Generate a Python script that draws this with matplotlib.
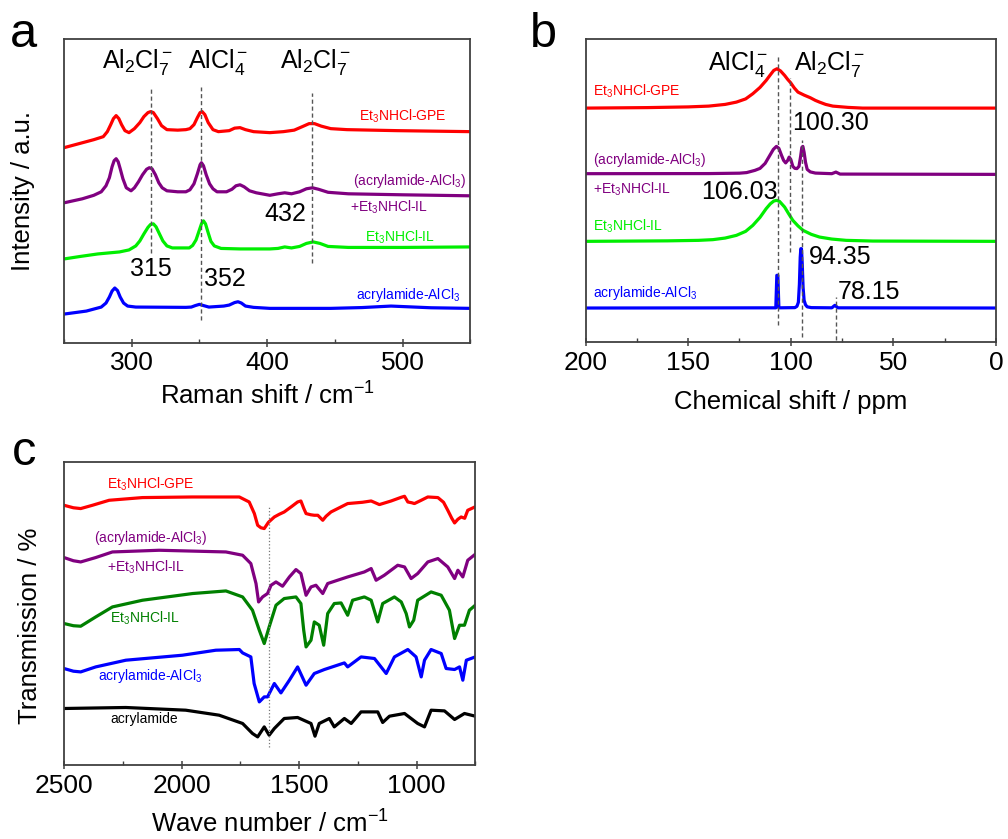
import numpy as np
import matplotlib
matplotlib.use("Agg")
from matplotlib import pyplot as plt
from matplotlib.ticker import MultipleLocator

plt.rcParams['font.family'] = ['Liberation Sans', 'DejaVu Sans']
plt.rcParams['mathtext.fontset'] = 'custom'
plt.rcParams['mathtext.rm'] = 'Liberation Sans'
plt.rcParams['mathtext.it'] = 'Liberation Sans'
plt.rcParams['mathtext.bf'] = 'Liberation Sans'

# ---- panel a : Raman ----
ra_gpe_x = [250, 261, 272, 279, 282, 284.5, 286.5, 288.5, 290.5, 292.5, 295, 298, 302, 306, 309, 312, 314, 316, 319, 322, 326, 334, 340, 343, 346, 348.5, 350.5, 352, 354, 356.5, 360, 364, 372, 376, 380, 384, 390, 402, 412, 420, 426, 431, 435, 440, 447, 459, 496, 550]
ra_gpe_y = [195, 199, 203, 206, 211, 218, 224, 227, 224, 218, 212, 210, 214, 220, 226, 230, 231, 230, 224, 217, 213, 212.5, 213, 214, 218, 225, 230, 231, 228, 220, 213, 211, 212, 214.5, 215, 213, 211, 210, 211, 212.5, 216, 219, 219, 216.5, 214, 213, 212, 211]
ra_pur_x = [250, 263.5, 272, 277.5, 281, 283.5, 285.5, 287, 288.5, 290, 291.5, 293.5, 296, 299.5, 302, 305, 308, 311, 313, 315, 317.5, 320, 322.5, 326, 334, 340, 343, 346, 348.5, 350.5, 351.5, 353, 355, 357.5, 360, 363, 370, 374, 377, 380, 383, 387, 392, 402, 408, 413, 418, 424, 429, 433.5, 438, 445, 460, 500, 550]
ra_pur_y = [140, 144, 147.5, 151, 157, 165, 176, 182, 184, 181, 174, 164, 155, 152, 155, 161, 168, 173.5, 175, 174, 168, 160, 155, 152, 151, 151, 153, 159, 169, 178, 180, 177, 168, 159, 154, 151, 151, 153.5, 157, 158, 156, 152, 150, 147.5, 149, 150, 149, 151, 154, 155, 153.5, 150.5, 149, 148, 147]
ra_grn_x = [250, 262, 275, 291, 298, 303, 306, 309, 312, 314, 316, 318, 320.5, 323, 326, 330, 342.5, 345, 347.5, 349.5, 351.5, 353, 354.5, 356.5, 358.5, 361, 366, 380, 402, 408, 413, 418, 424, 429, 434, 439, 445, 460, 500, 550]
ra_grn_y = [84, 86.5, 89, 91, 93, 97, 102, 109, 115.5, 118.5, 119, 116, 109, 102, 97, 95, 95, 97.5, 103, 111, 119, 122, 119, 110, 101.5, 97, 94.5, 94, 94, 94.5, 96, 95, 96.5, 99.5, 101, 99.5, 96.5, 95.5, 95.5, 96]
ra_blu_x = [250, 266.5, 277.5, 281, 283.5, 285.5, 287.5, 289.5, 291.5, 294, 297, 303, 340, 344, 347, 350, 353, 357, 368, 372, 376, 378.5, 381, 384, 390, 402, 447, 470, 491.5, 521, 550]
ra_blu_y = [29, 32, 36, 40, 46, 52, 55, 52.5, 46, 40, 37, 36, 35.7, 36, 37.5, 38.7, 37.5, 36, 37, 38, 40.5, 41.3, 40, 37, 35.7, 34.7, 34.7, 35.5, 37, 35.3, 34.7]
ra_marks = [314, 351, 433]
ra_mark_lo = [90, 23, 80]
ra_mark_hi = [254, 256, 250]
ra_mark_txt = ['315', '352', '432']

# ---- panel b : 27Al NMR ----
nb_gpe_x = [200, 170, 150, 140, 132, 126.5, 122, 118.5, 115, 112, 110, 108.3, 106.7, 105, 103, 101.5, 100, 98.3, 96.5, 93.5, 90.5, 88, 86, 83, 79.5, 72, 65, 0]
nb_gpe_y = [234.3, 234.8, 235.5, 236.3, 238, 240.3, 243.5, 248.7, 255, 262, 267.5, 272, 273.7, 271.5, 267, 263, 259.5, 254.5, 250.3, 247.3, 244.7, 242, 240.3, 238, 236.3, 235, 234.3, 234.3]
nb_pur_x = [200, 140, 125, 121.5, 117.5, 115, 112.5, 110.5, 108.5, 107, 105.8, 104.5, 103.5, 102.5, 101.5, 100.8, 100, 99, 98, 97, 96, 95.2, 94.6, 94.1, 93.5, 92.8, 92, 90.5, 88, 80, 78, 76, 0]
nb_pur_y = [168.7, 168.8, 169.2, 169.8, 172, 174, 179, 186, 193, 196, 194, 187, 182, 179.5, 182, 185.3, 183, 176, 174, 173.8, 176, 186, 195, 196, 190, 180, 173, 170.5, 169.3, 168.7, 170.3, 168.3, 168]
nb_grn_x = [200, 160, 145, 138, 132, 126.5, 122, 118.5, 115, 112, 110, 108.3, 107, 105.5, 103, 101, 99, 96.5, 94, 90, 86, 80, 73, 60, 0]
nb_grn_y = [101, 101.5, 102, 102.7, 104.3, 107, 111, 117, 125, 133.7, 138.5, 141.3, 142, 141, 135.3, 128.5, 122, 116.5, 112, 108, 105.3, 103.3, 102, 101.3, 101]
nb_blu_x = [200, 107.3, 106.8, 106.3, 105.8, 98, 97, 96.3, 95.8, 95.4, 95.1, 94.8, 94.4, 94, 93.5, 92.8, 92, 90, 80, 78.5, 77, 0]
nb_blu_y = [34.3, 34.5, 67, 67, 34.5, 34.7, 36, 40, 58, 85, 93.7, 93.7, 78, 55, 42, 37.5, 35.5, 34.7, 34.5, 37, 34.5, 34.3]
nb_marks = [106.03, 100.30, 94.35, 78.15]
nb_mark_lo = [17, 90, 5, 2]
nb_mark_hi = [287, 264, 202, 45]

# ---- panel c : FTIR ----
ft_gpe_x = [2500, 2460, 2429, 2379, 2308, 2166, 1953, 1754, 1712, 1690, 1676, 1662, 1648, 1630, 1605, 1584, 1563, 1530, 1506, 1492, 1480, 1470, 1450, 1435, 1420, 1399, 1385, 1364, 1293, 1230, 1193, 1158, 1140, 1108, 1065, 1051, 1037, 1020, 1009, 980, 952, 909, 885, 867, 850, 838, 824, 810, 795, 782, 750]
ft_gpe_y = [260, 257.5, 256.7, 260, 265, 267.7, 268.3, 268.3, 263.3, 251.7, 240, 237.5, 236.7, 243, 248.3, 251, 253.3, 259, 263.3, 264.3, 257, 251.7, 250.5, 250, 250, 245, 249, 253.3, 261.7, 263, 264.3, 260.7, 262, 264.3, 268, 269, 263.3, 262.5, 261.7, 265, 268.3, 267.7, 263, 255, 247, 242.3, 246, 248.3, 247, 255, 258.5]
ft_pur_x = [2500, 2460, 2429, 2365, 2294, 2095, 1811, 1740, 1705, 1683, 1672, 1655, 1634, 1619, 1598, 1570, 1541, 1513, 1492, 1470, 1449, 1428, 1399, 1378, 1336, 1293, 1222, 1193, 1172, 1137, 1080, 1051, 1023, 995, 952, 909, 867, 838, 824, 803, 782, 750]
ft_pur_y = [207.7, 204.5, 203.3, 207.7, 213.3, 215, 213.3, 210, 201.7, 181.7, 163.3, 168.3, 171.7, 180, 183.3, 179, 188.3, 195.7, 191.7, 170, 178.3, 180, 171.7, 181.7, 185, 188.3, 193.3, 196.7, 185, 190, 200, 198.3, 186.7, 191.7, 203.3, 206.7, 198.3, 186.7, 195, 188.3, 205, 211]
ft_grn_x = [2500, 2460, 2429, 2365, 2294, 2166, 1953, 1811, 1740, 1698, 1669, 1648, 1627, 1598, 1563, 1513, 1492, 1480, 1470, 1449, 1435, 1414, 1395, 1378, 1350, 1321, 1293, 1272, 1222, 1193, 1165, 1144, 1094, 1065, 1044, 1030, 1012, 995, 938, 895, 860, 838, 817, 796, 775, 750]
ft_grn_y = [141.7, 139.5, 139, 148.3, 158.3, 165, 171.7, 174.3, 168.3, 155, 135, 121.7, 138.3, 160, 166.7, 168.3, 161.7, 135, 118.3, 125, 143.3, 140, 120, 151.7, 161.7, 162.3, 150, 165, 168.3, 165, 143.3, 161.7, 168.3, 163.3, 151.7, 138.3, 145, 165, 173.3, 170, 155, 126.7, 140, 140, 155, 160]
ft_blu_x = [2500, 2460, 2429, 2365, 2237, 1996, 1854, 1754, 1740, 1705, 1691, 1669, 1648, 1634, 1605, 1577, 1541, 1506, 1470, 1435, 1392, 1307, 1293, 1236, 1179, 1129, 1094, 1037, 1002, 980, 966, 938, 895, 874, 838, 817, 803, 788, 750]
ft_blu_y = [96.7, 94, 93.3, 98.3, 105, 110, 115, 115.7, 112.3, 108.3, 81.7, 63.3, 68.3, 68.3, 81.7, 72.3, 85, 98.3, 80, 91.7, 95.7, 102.3, 98.3, 108.3, 106.7, 91.7, 108.3, 115.7, 108.3, 88.3, 105, 115.7, 111.7, 96.7, 95.7, 98.3, 85, 105, 108.3]
ft_blk_x = [2500, 2237, 1982, 1840, 1740, 1698, 1676, 1648, 1627, 1605, 1563, 1506, 1449, 1432, 1414, 1371, 1350, 1307, 1278, 1236, 1165, 1144, 1115, 1051, 995, 966, 938, 881, 838, 796, 750]
ft_blk_y = [56.7, 57.7, 55, 50, 41.7, 31.7, 28.3, 38.3, 30, 36.7, 46.7, 47.7, 41.7, 29, 41.7, 46.7, 38.3, 46.7, 41.7, 53.3, 53.3, 42.7, 49, 51.7, 41.7, 38.3, 55, 54.3, 45.7, 51.7, 49]
ft_mark = 1627

RED, PUR, LIME, DGRN, BLU = '#ff0000', '#800080', '#00ee00', '#008000', '#0000ff'
LW = 2.3
TICK_FS = 19
LAB_FS = 18.5
PEAK_FS = 18
CURVE_FS = 10


def style_axes(ax):
    for s in ax.spines.values():
        s.set_color('#404040')
        s.set_linewidth(1.3)
    ax.set_yticks([])
    ax.tick_params(axis='x', which='major', direction='inout', length=6, width=1.1,
                   labelsize=TICK_FS, color='#404040', pad=3)
    ax.tick_params(axis='x', which='minor', direction='in', length=3, width=1.0, color='#404040')
    ax.set_ylim(0, 303)


fig = plt.figure(figsize=(10.08, 8.39), dpi=100)
ax_a = fig.add_axes([0.0635, 0.591, 0.403, 0.362])
ax_b = fig.add_axes([0.581, 0.592, 0.407, 0.361])
ax_c = fig.add_axes([0.0635, 0.088, 0.408, 0.361])

# panel a
ax = ax_a
ax.plot(ra_gpe_x, ra_gpe_y, color=RED, lw=LW)
ax.plot(ra_pur_x, ra_pur_y, color=PUR, lw=LW)
ax.plot(ra_grn_x, ra_grn_y, color=LIME, lw=LW)
ax.plot(ra_blu_x, ra_blu_y, color=BLU, lw=LW)
for xm, lo, hi in zip(ra_marks, ra_mark_lo, ra_mark_hi):
    ax.plot([xm, xm], [lo, hi], color='#555555', lw=1.0, ls=(0, (3, 2)))
ax.set_xlim(250, 550)
ax.xaxis.set_major_locator(MultipleLocator(100))
ax.xaxis.set_minor_locator(MultipleLocator(50))
style_axes(ax)
ax.text(304, 280, r'Al$_2$Cl$_7^-$', fontsize=PEAK_FS, ha='center', va='center')
ax.text(364, 280, r'AlCl$_4^-$', fontsize=PEAK_FS, ha='center', va='center')
ax.text(436, 280, r'Al$_2$Cl$_7^-$', fontsize=PEAK_FS, ha='center', va='center')
ax.text(314, 74, ra_mark_txt[0], fontsize=PEAK_FS, ha='center', va='center')
ax.text(369, 64, ra_mark_txt[1], fontsize=PEAK_FS, ha='center', va='center')
ax.text(413.5, 129, ra_mark_txt[2], fontsize=PEAK_FS, ha='center', va='center')
ax.text(500, 226, r'Et$_3$NHCl-GPE', color=RED, fontsize=CURVE_FS, ha='center', va='center')
ax.text(505, 162, r'(acrylamide-AlCl$_3$)', color=PUR, fontsize=CURVE_FS, ha='center', va='center')
ax.text(490, 136, r'+Et$_3$NHCl-IL', color=PUR, fontsize=CURVE_FS, ha='center', va='center')
ax.text(498, 106, r'Et$_3$NHCl-IL', color=LIME, fontsize=CURVE_FS, ha='center', va='center')
ax.text(504, 48, r'acrylamide-AlCl$_3$', color=BLU, fontsize=CURVE_FS, ha='center', va='center')
ax.set_xlabel(r'Raman shift / cm$^{-1}$', fontsize=LAB_FS, labelpad=5)
ax.set_ylabel('Intensity / a.u.', fontsize=LAB_FS, labelpad=21)

# panel b
ax = ax_b
ax.plot(nb_gpe_x, nb_gpe_y, color=RED, lw=LW)
ax.plot(nb_pur_x, nb_pur_y, color=PUR, lw=LW)
ax.plot(nb_grn_x, nb_grn_y, color=LIME, lw=LW)
ax.plot(nb_blu_x, nb_blu_y, color=BLU, lw=LW)
for xm, lo, hi in zip(nb_marks, nb_mark_lo, nb_mark_hi):
    ax.plot([xm, xm], [lo, hi], color='#555555', lw=1.0, ls=(0, (3, 2)))
ax.set_xlim(200, 0)
ax.xaxis.set_major_locator(MultipleLocator(50))
ax.xaxis.set_minor_locator(MultipleLocator(25))
style_axes(ax)
ax.text(111, 278, r'AlCl$_4^-$', fontsize=PEAK_FS, ha='right', va='center')
ax.text(98.5, 278, r'Al$_2$Cl$_7^-$', fontsize=PEAK_FS, ha='left', va='center')
ax.text(80.5, 219, '%.2f' % nb_marks[1], fontsize=PEAK_FS, ha='center', va='center')
ax.text(125, 150, '%.2f' % nb_marks[0], fontsize=PEAK_FS, ha='center', va='center')
ax.text(76, 85, '%.2f' % nb_marks[2], fontsize=PEAK_FS, ha='center', va='center')
ax.text(62, 50, '%.2f' % nb_marks[3], fontsize=PEAK_FS, ha='center', va='center')
ax.text(196.5, 251, r'Et$_3$NHCl-GPE', color=RED, fontsize=CURVE_FS, ha='left', va='center')
ax.text(196.5, 182, r'(acrylamide-AlCl$_3$)', color=PUR, fontsize=CURVE_FS, ha='left', va='center')
ax.text(196.5, 153, r'+Et$_3$NHCl-IL', color=PUR, fontsize=CURVE_FS, ha='left', va='center')
ax.text(196.5, 116, r'Et$_3$NHCl-IL', color=LIME, fontsize=CURVE_FS, ha='left', va='center')
ax.text(196.5, 49, r'acrylamide-AlCl$_3$', color=BLU, fontsize=CURVE_FS, ha='left', va='center')
ax.set_xlabel('Chemical shift / ppm', fontsize=LAB_FS, labelpad=11)

# panel c
ax = ax_c
ax.plot(ft_gpe_x, ft_gpe_y, color=RED, lw=LW)
ax.plot(ft_pur_x, ft_pur_y, color=PUR, lw=LW)
ax.plot(ft_grn_x, ft_grn_y, color=DGRN, lw=LW)
ax.plot(ft_blu_x, ft_blu_y, color=BLU, lw=LW)
ax.plot(ft_blk_x, ft_blk_y, color='black', lw=LW)
ax.plot([ft_mark, ft_mark], [18, 258], color='#777777', lw=0.9, ls=':')
ax.set_xlim(2500, 750)
ax.xaxis.set_major_locator(MultipleLocator(500))
ax.xaxis.set_minor_locator(MultipleLocator(250))
style_axes(ax)
ax.text(2133, 281, r'Et$_3$NHCl-GPE', color=RED, fontsize=CURVE_FS, ha='center', va='center')
ax.text(2133, 227, r'(acrylamide-AlCl$_3$)', color=PUR, fontsize=CURVE_FS, ha='center', va='center')
ax.text(2152, 198, r'+Et$_3$NHCl-IL', color=PUR, fontsize=CURVE_FS, ha='center', va='center')
ax.text(2155, 147, r'Et$_3$NHCl-IL', color=DGRN, fontsize=CURVE_FS, ha='center', va='center')
ax.text(2133, 89, r'acrylamide-AlCl$_3$', color=BLU, fontsize=CURVE_FS, ha='center', va='center')
ax.text(2159, 46, 'acrylamide', color='black', fontsize=CURVE_FS, ha='center', va='center')
ax.set_xlabel(r'Wave number / cm$^{-1}$', fontsize=LAB_FS, labelpad=9)
ax.set_ylabel('Transmission / %', fontsize=LAB_FS, labelpad=14)
ax.yaxis.set_label_coords(-0.053, 0.46)

# panel letters
fig.text(10 / 1008, 1 - 47 / 839, 'a', fontsize=35, ha='left', va='baseline')
fig.text(530 / 1008, 1 - 47 / 839, 'b', fontsize=35, ha='left', va='baseline')
fig.text(12 / 1008, 1 - 465 / 839, 'c', fontsize=35, ha='left', va='baseline')

fig.savefig('out.png', dpi=100)
